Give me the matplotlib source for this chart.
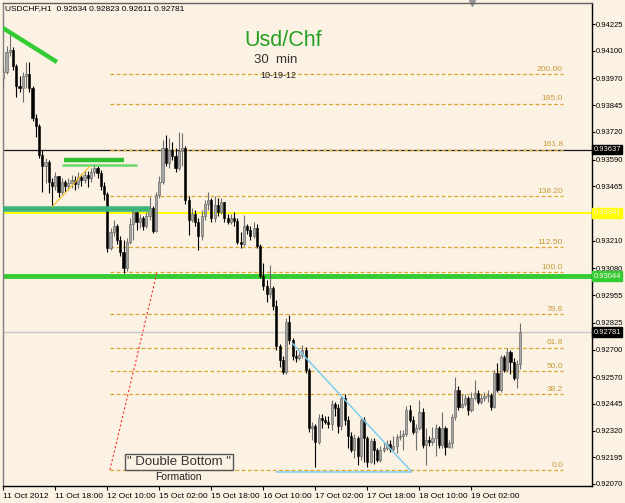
import matplotlib

matplotlib.use("Agg")
import matplotlib.pyplot as plt
import numpy as np

plt.rcParams["font.family"] = ["Liberation Sans", "DejaVu Sans"]

# USDCHF H1 candles, 11 Oct 02:00 .. 19 Oct 17:00
opens = [
    0.93973, 0.94001, 0.94094, 0.94104, 0.94029, 0.93935, 0.93926, 0.93982, 0.93991, 0.93926,
    0.93785, 0.93748, 0.93612, 0.93560, 0.93579, 0.93485, 0.93467, 0.93513, 0.93438, 0.93485,
    0.93467, 0.93481, 0.93495, 0.93476, 0.93509, 0.93495, 0.93518, 0.93504, 0.93532, 0.93551,
    0.93527, 0.93467, 0.93429, 0.93176, 0.93251, 0.93279, 0.93214, 0.93157, 0.93082, 0.93204,
    0.93289, 0.93345, 0.93298, 0.93317, 0.93279, 0.93326, 0.93364, 0.93256, 0.93424, 0.93485,
    0.93645, 0.93574, 0.93635, 0.93607, 0.93551, 0.93631, 0.93645, 0.93401, 0.93307, 0.93335,
    0.93298, 0.93232, 0.93326, 0.93382, 0.93401, 0.93317, 0.93378, 0.93345, 0.93392, 0.93317,
    0.93298, 0.93317, 0.93303, 0.93204, 0.93195, 0.93279, 0.93260, 0.93232, 0.93270, 0.93185,
    0.93045, 0.92998, 0.92961, 0.92989, 0.92904, 0.92717, 0.92651, 0.92595, 0.92829, 0.92745,
    0.92670, 0.92661, 0.92675, 0.92698, 0.92605, 0.92333, 0.92342, 0.92267, 0.92380, 0.92370,
    0.92361, 0.92352, 0.92445, 0.92427, 0.92342, 0.92474, 0.92370, 0.92295, 0.92230, 0.92286,
    0.92202, 0.92370, 0.92286, 0.92174, 0.92272, 0.92230, 0.92183, 0.92230, 0.92239, 0.92258,
    0.92234, 0.92249, 0.92291, 0.92295, 0.92305, 0.92417, 0.92370, 0.92314, 0.92333, 0.92408,
    0.92253, 0.92277, 0.92267, 0.92286, 0.92333, 0.92253, 0.92333, 0.92244, 0.92262, 0.92384,
    0.92511, 0.92431, 0.92445, 0.92474, 0.92417, 0.92474, 0.92497, 0.92455, 0.92474, 0.92483,
    0.92487, 0.92431, 0.92590, 0.92511, 0.92665, 0.92605, 0.92689, 0.92642, 0.92567, 0.92634,
]
highs = [
    0.94029, 0.94122, 0.94179, 0.94118, 0.94038, 0.93982, 0.94001, 0.94048, 0.94048, 0.93935,
    0.93804, 0.93757, 0.93635, 0.93598, 0.93588, 0.93504, 0.93532, 0.93513, 0.93504, 0.93495,
    0.93504, 0.93518, 0.93513, 0.93532, 0.93523, 0.93542, 0.93537, 0.93551, 0.93570, 0.93560,
    0.93542, 0.93485, 0.93438, 0.93270, 0.93307, 0.93289, 0.93232, 0.93214, 0.93223, 0.93317,
    0.93364, 0.93345, 0.93335, 0.93326, 0.93345, 0.93415, 0.93373, 0.93438, 0.93513, 0.93682,
    0.93706, 0.93692, 0.93673, 0.93645, 0.93720, 0.93715, 0.93654, 0.93420, 0.93364, 0.93354,
    0.93317, 0.93354, 0.93401, 0.93438, 0.93410, 0.93420, 0.93410, 0.93410, 0.93392, 0.93335,
    0.93335, 0.93345, 0.93317, 0.93251, 0.93331, 0.93289, 0.93279, 0.93298, 0.93289, 0.93195,
    0.93106, 0.93026, 0.93096, 0.92998, 0.92932, 0.92726, 0.92670, 0.92848, 0.92862, 0.92755,
    0.92698, 0.92689, 0.92722, 0.92710, 0.92614, 0.92361, 0.92350, 0.92398, 0.92398, 0.92389,
    0.92389, 0.92464, 0.92455, 0.92445, 0.92483, 0.92490, 0.92389, 0.92314, 0.92305, 0.92295,
    0.92380, 0.92385, 0.92295, 0.92286, 0.92286, 0.92239, 0.92249, 0.92267, 0.92277, 0.92277,
    0.92295, 0.92305, 0.92323, 0.92323, 0.92436, 0.92441, 0.92389, 0.92352, 0.92464, 0.92427,
    0.92333, 0.92295, 0.92338, 0.92352, 0.92342, 0.92408, 0.92342, 0.92277, 0.92398, 0.92572,
    0.92530, 0.92492, 0.92492, 0.92483, 0.92501, 0.92558, 0.92511, 0.92492, 0.92501, 0.92511,
    0.92497, 0.92605, 0.92637, 0.92675, 0.92675, 0.92708, 0.92698, 0.92661, 0.92651, 0.92823,
]
lows = [
    0.93926, 0.93991, 0.94076, 0.94010, 0.93884, 0.93907, 0.93860, 0.93926, 0.93907, 0.93771,
    0.93696, 0.93598, 0.93438, 0.93481, 0.93434, 0.93368, 0.93448, 0.93415, 0.93424, 0.93438,
    0.93448, 0.93457, 0.93448, 0.93457, 0.93467, 0.93481, 0.93462, 0.93485, 0.93513, 0.93504,
    0.93448, 0.93401, 0.93157, 0.93167, 0.93232, 0.93195, 0.93139, 0.93059, 0.93068, 0.93195,
    0.93214, 0.93260, 0.93270, 0.93260, 0.93270, 0.93307, 0.93246, 0.93251, 0.93410, 0.93476,
    0.93560, 0.93551, 0.93588, 0.93532, 0.93542, 0.93560, 0.93382, 0.93237, 0.93298, 0.93279,
    0.93167, 0.93214, 0.93307, 0.93354, 0.93298, 0.93298, 0.93326, 0.93335, 0.93298, 0.93289,
    0.93289, 0.93279, 0.93195, 0.93176, 0.93185, 0.93242, 0.93214, 0.93223, 0.93176, 0.93036,
    0.92979, 0.92923, 0.92942, 0.92886, 0.92698, 0.92619, 0.92586, 0.92586, 0.92726, 0.92651,
    0.92642, 0.92651, 0.92661, 0.92590, 0.92314, 0.92277, 0.92150, 0.92258, 0.92333, 0.92352,
    0.92333, 0.92323, 0.92389, 0.92309, 0.92323, 0.92347, 0.92239, 0.92220, 0.92192, 0.92160,
    0.92183, 0.92174, 0.92150, 0.92169, 0.92164, 0.92174, 0.92174, 0.92220, 0.92230, 0.92220,
    0.92220, 0.92216, 0.92277, 0.92230, 0.92295, 0.92361, 0.92305, 0.92230, 0.92323, 0.92239,
    0.92160, 0.92249, 0.92253, 0.92202, 0.92239, 0.92239, 0.92206, 0.92239, 0.92239, 0.92370,
    0.92417, 0.92427, 0.92436, 0.92394, 0.92408, 0.92464, 0.92445, 0.92445, 0.92460, 0.92455,
    0.92417, 0.92427, 0.92501, 0.92501, 0.92595, 0.92595, 0.92586, 0.92558, 0.92520, 0.92611,
]
closes = [
    0.94001, 0.94094, 0.94104, 0.94029, 0.93935, 0.93926, 0.93982, 0.93991, 0.93926, 0.93785,
    0.93748, 0.93612, 0.93560, 0.93579, 0.93485, 0.93467, 0.93513, 0.93438, 0.93485, 0.93467,
    0.93481, 0.93495, 0.93476, 0.93509, 0.93495, 0.93518, 0.93504, 0.93532, 0.93551, 0.93527,
    0.93467, 0.93429, 0.93176, 0.93251, 0.93279, 0.93214, 0.93157, 0.93082, 0.93204, 0.93289,
    0.93345, 0.93298, 0.93317, 0.93279, 0.93326, 0.93364, 0.93256, 0.93424, 0.93485, 0.93645,
    0.93574, 0.93635, 0.93607, 0.93551, 0.93631, 0.93645, 0.93401, 0.93307, 0.93335, 0.93298,
    0.93232, 0.93326, 0.93382, 0.93401, 0.93317, 0.93378, 0.93345, 0.93392, 0.93317, 0.93298,
    0.93317, 0.93303, 0.93204, 0.93195, 0.93279, 0.93260, 0.93232, 0.93270, 0.93185, 0.93045,
    0.92998, 0.92961, 0.92989, 0.92904, 0.92717, 0.92651, 0.92595, 0.92829, 0.92745, 0.92670,
    0.92661, 0.92675, 0.92698, 0.92605, 0.92333, 0.92342, 0.92267, 0.92380, 0.92370, 0.92361,
    0.92352, 0.92445, 0.92427, 0.92342, 0.92474, 0.92370, 0.92295, 0.92230, 0.92286, 0.92202,
    0.92370, 0.92286, 0.92174, 0.92272, 0.92230, 0.92183, 0.92230, 0.92239, 0.92258, 0.92234,
    0.92249, 0.92291, 0.92295, 0.92305, 0.92417, 0.92370, 0.92314, 0.92333, 0.92408, 0.92253,
    0.92277, 0.92267, 0.92286, 0.92333, 0.92253, 0.92333, 0.92244, 0.92262, 0.92384, 0.92511,
    0.92431, 0.92445, 0.92474, 0.92417, 0.92474, 0.92497, 0.92455, 0.92474, 0.92483, 0.92487,
    0.92431, 0.92590, 0.92511, 0.92665, 0.92605, 0.92689, 0.92642, 0.92567, 0.92634, 0.92781,
]

time_ticks = [0, 16, 32, 48, 64, 80, 96, 112, 128, 144]
time_labels = ["11 Oct 2012", "11 Oct 18:00", "12 Oct 10:00", "15 Oct 02:00", "15 Oct 18:00",
               "16 Oct 10:00", "17 Oct 02:00", "17 Oct 18:00", "18 Oct 10:00", "19 Oct 02:00"]
price_ticks = [0.94225, 0.94100, 0.93970, 0.93845, 0.93720, 0.93590, 0.93465, 0.93210,
               0.93080, 0.92955, 0.92825, 0.92700, 0.92570, 0.92445, 0.92320, 0.92195, 0.92070]

# fibonacci expansion, 0 and 100 anchors
fib_zero, fib_hundred = 0.92136, 0.93063
fib_levels = [0.0, 38.2, 50.0, 61.8, 78.6, 100.0, 112.5, 138.2, 161.8, 185.0, 200.0]
fib_names = ["0.0", "38.2", "50.0", "61.8", "78.6", "100.0", "112.50", "138.20", "161.8", "185.0", "200.00"]
fib_span = (32.8, 172.2)
fib_base = ([32.8, 47.3], [fib_zero, fib_hundred])

# horizontal levels with price tags on the right
level_prices = [0.93637, 0.93341, 0.93044, 0.92781]
level_colors = ["#1a1a1a", "#ffff00", "#33cc33", "#c8c8c8"]
level_widths = [0.9, 1.4, 3.5, 1.0]
tag_colors = ["#000000", "#ffff00", "#33cc33", "#000000"]

# drawn trendlines: (bars, prices, colour, width)
trendlines = [
    ([-0.1, 16.5], [0.94206, 0.94047], "#33cc33", 3.2),
    ([18.7, 37.1], [0.93588, 0.93588], "#2ec22e", 3.2),
    ([18.0, 41.1], [0.93564, 0.93564], "#6ad86a", 1.8),
    ([-0.1, 45.1], [0.93358, 0.93358], "#3db37a", 4.0),
    ([15.0, 26.7], [0.93368, 0.93560], "#f2c230", 0.9),
    ([88.8, 125.7], [0.92731, 0.92126], "#7fcdec", 1.1),
    ([83.9, 125.7], [0.92126, 0.92126], "#7fcdec", 1.1),
]

bg = "#fbf2e4"
fig = plt.figure(figsize=(6.25, 5.03), dpi=100, facecolor=bg)
ax = fig.add_axes([3 / 625, 17 / 503, 589 / 625, 483 / 503], facecolor=bg)
ax.set_xlim(-0.1, 181.1)
ax.set_ylim(0.920606, 0.943234)

o = np.array(opens)
c = np.array(closes)
x = np.arange(len(c))
up = c >= o
ax.vlines(x, lows, highs, colors=np.where(up, "#6e6e6e", "#000000"), lw=0.8, zorder=3)
ax.bar(x, np.maximum(np.abs(c - o), 0.00002), bottom=np.minimum(o, c), width=0.68,
       color=np.where(up, "#a6a6a6", "#000000"), edgecolor=np.where(up, "#5a5a5a", "#000000"),
       linewidth=0.4, zorder=4)

for p, col, lw in zip(level_prices, level_colors, level_widths):
    ax.axhline(p, color=col, lw=lw, zorder=2)

fib_prices = [fib_zero + (fib_hundred - fib_zero) * lv / 100 for lv in fib_levels]
ax.hlines(fib_prices, *fib_span, colors="#d9a52a", linestyles=(0, (3, 2)), lw=0.9, zorder=2)
for p, name in zip(fib_prices, fib_names):
    ax.annotate(name, (fib_span[1], p), xytext=(0, 1), textcoords="offset points",
                ha="right", va="bottom", fontsize=6, color="#c99a3a")
ax.plot(*fib_base, color="#ff3030", lw=0.8, ls=(0, (2, 2)), zorder=5)

for bx, py, col, lw in trendlines:
    ax.plot(bx, py, color=col, lw=lw, solid_capstyle="butt", zorder=5)

ax.yaxis.tick_right()
ax.set_yticks(price_ticks)
ax.set_yticklabels([f"{p:.5f}" for p in price_ticks])
ax.set_xticks(time_ticks)
ax.set_xticklabels(time_labels, ha="left")
ax.tick_params(axis="y", direction="out", length=2, width=0.8, labelsize=5.5, pad=1, colors="#000000")
ax.tick_params(axis="x", direction="out", length=3, width=0.8, labelsize=6, pad=2, colors="#000000")

for p, col in zip(level_prices, tag_colors):
    ax.text(1.0025, p, f"{p:.5f}", transform=ax.get_yaxis_transform(), ha="left", va="center",
            fontsize=5.5, color=bg, clip_on=False, zorder=10,
            bbox=dict(boxstyle="square,pad=0.18", fc=col, ec=col))

for side, col in [("left", "#808080"), ("top", "#606060"), ("right", "#000000"), ("bottom", "#000000")]:
    ax.spines[side].set_color(col)
    ax.spines[side].set_linewidth(1.0)

ax.plot([144.2], [1.0], marker="v", ms=4, color="#9a9a9a", transform=ax.get_xaxis_transform(), clip_on=False)

fig.text(5 / 625, 1 - 9 / 503, "USDCHF,H1  0.92634 0.92823 0.92611 0.92781", fontsize=6, va="center")
fig.text(283 / 625, 1 - 40 / 503, "Usd/Chf", fontsize=15.5, color="#25a025", ha="center", va="center")
fig.text(276 / 625, 1 - 60 / 503, "30  min", fontsize=9.5, color="#333333", ha="center", va="center")
fig.text(278 / 625, 1 - 76 / 503, "10-19-12", fontsize=6.5, color="#222222", ha="center", va="center")
fig.text(179 / 625, 1 - 462 / 503, '" Double Bottom "', fontsize=9.5, color="#333333", ha="center", va="center",
         bbox=dict(boxstyle="square,pad=0.12", fc="none", ec="#555555", lw=1))
fig.text(178 / 625, 1 - 477 / 503, "Formation", fontsize=7.5, color="#222222", ha="center", va="center")

fig.savefig("out.png", dpi=100, facecolor=bg)
